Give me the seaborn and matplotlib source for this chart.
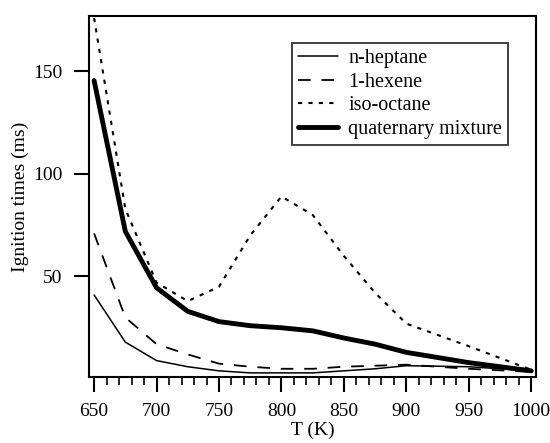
import numpy as np
import pandas as pd
import seaborn as sns
import matplotlib.pyplot as plt
from matplotlib.ticker import MultipleLocator

T = [650, 675, 700, 725, 750, 775, 800, 825, 850, 875, 900, 950, 1000]
n_heptane = [41, 18, 9, 6, 4, 3, 3, 3, 4, 5, 6.5, 6, 4]
hexene = [71, 30, 17, 12, 7.5, 6, 5, 5, 6, 6.5, 7, 5, 3.5]
iso_octane = [176, 83, 47, 38, 45, 70, 89, 80, 60, 42, 27, 16, 4.5]
quaternary = [145.5, 72, 44.5, 33, 28, 26, 25, 23.5, 20, 17, 13, 8, 4]

df = pd.DataFrame({"T": T, "n-heptane": n_heptane, "1-hexene": hexene,
                   "iso-octane": iso_octane, "quaternary mixture": quaternary})

sns.set_style("ticks")
plt.rcParams['font.family'] = ['Liberation Serif', 'DejaVu Serif']
plt.rcParams['font.size'] = 14
plt.rcParams['text.color'] = 'black'
plt.rcParams['axes.labelcolor'] = 'black'

fig, ax = plt.subplots(figsize=(5.5, 4.43), dpi=100)
fig.subplots_adjust(left=0.162, right=0.975, top=0.964, bottom=0.149)

sns.lineplot(data=df, x="T", y="n-heptane", ax=ax, color="black", lw=1.1, label="n-heptane")
sns.lineplot(data=df, x="T", y="1-hexene", ax=ax, color="black", lw=1.3, label="1-hexene",
             linestyle=(0, (7, 6)))
sns.lineplot(data=df, x="T", y="iso-octane", ax=ax, color="black", lw=1.5, label="iso-octane",
             linestyle=(0, (2, 3)))
sns.lineplot(data=df, x="T", y="quaternary mixture", ax=ax, color="black", lw=3.5,
             label="quaternary mixture")

ax.set_xlim(646, 1004)
ax.set_ylim(1, 177)
ax.set_xticks([650, 700, 750, 800, 850, 900, 950, 1000])
ax.xaxis.set_minor_locator(MultipleLocator(10))
ax.set_yticks([50, 100, 150])
ax.tick_params(axis='both', which='major', direction='out', length=11, width=1.5,
               labelsize=14, pad=8, color='black', labelcolor='black')
ax.tick_params(axis='x', which='minor', direction='out', length=6, width=1.2, color='black')
for s in ax.spines.values():
    s.set_color('black')
    s.set_linewidth(1.5)

ax.set_xlabel("T (K)", fontsize=14, labelpad=1)
ax.set_ylabel("Ignition times (ms)", fontsize=14, labelpad=3)

leg = ax.legend(loc='upper right', bbox_to_anchor=(0.937, 0.925), fontsize=14.5,
                frameon=True, fancybox=False, handlelength=2.0, borderpad=0.3,
                labelspacing=0.22, handletextpad=0.5, borderaxespad=0)
leg.get_frame().set_edgecolor('black')
leg.get_frame().set_linewidth(1.3)

fig.savefig("out.png", dpi=100)
